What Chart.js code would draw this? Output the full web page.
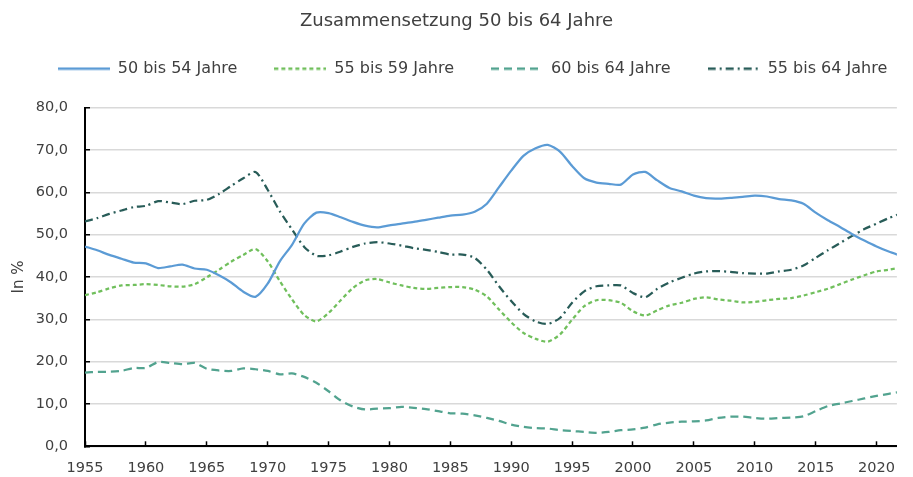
<!DOCTYPE html>
<html>
<head>
<meta charset="utf-8">
<script src="https://cdn.jsdelivr.net/npm/chart.js@4/dist/chart.umd.min.js"></script>
<style>
  html, body { margin: 0; padding: 0; background: #ffffff; }
  #wrap { width: 913px; height: 477px; }
</style>
</head>
<body>
<div id="wrap"><canvas id="c" width="913" height="477"></canvas></div>
<script>
const years = [1955,1956,1957,1958,1959,1960,1961,1962,1963,1964,1965,1966,1967,1968,1969,
  1970,1971,1972,1973,1974,1975,1976,1977,1978,1979,1980,1981,1982,1983,1984,1985,1986,1987,1988,1989,
  1990,1991,1992,1993,1994,1995,1996,1997,1998,1999,2000,2001,2002,2003,2004,2005,2006,2007,2008,2009,
  2010,2011,2012,2013,2014,2015,2016,2017,2018,2019,2020,2021,2022];

const age50to54 = [47.2,46.3,45.2,44.3,43.4,43.2,42.1,42.5,42.9,42.0,41.7,40.4,38.7,36.5,35.3,
  38.4,43.7,47.6,52.6,55.2,55.1,54.1,53.0,52.1,51.7,52.2,52.6,53.0,53.5,54.0,54.5,54.7,55.4,57.3,61.2,
  65.1,68.6,70.4,71.2,69.6,66.2,63.3,62.3,62.0,61.8,64.2,64.8,62.8,61.0,60.2,59.2,58.6,58.5,58.7,58.9,
  59.2,59.0,58.4,58.1,57.3,55.2,53.4,51.8,50.1,48.6,47.2,46.0,45.0];

const age55to59 = [35.7,36.4,37.3,38.0,38.1,38.3,38.1,37.8,37.7,38.3,39.9,41.7,43.6,45.2,46.6,
  43.7,39.0,34.7,31.0,29.5,31.5,34.5,37.4,39.2,39.5,38.7,38.0,37.4,37.2,37.4,37.6,37.6,37.0,35.4,32.3,
  29.3,26.8,25.4,24.7,26.4,29.9,33.1,34.5,34.5,33.9,31.9,30.9,32.1,33.3,33.9,34.8,35.2,34.7,34.4,34.0,
  34.1,34.5,34.8,35.0,35.6,36.4,37.2,38.3,39.4,40.4,41.3,41.7,42.2];

const age60to64 = [17.4,17.6,17.6,17.8,18.5,18.5,19.9,19.7,19.4,19.7,18.3,17.9,17.8,18.4,18.2,
  17.8,17.0,17.2,16.4,15.0,13.0,10.8,9.4,8.7,8.9,9.0,9.3,9.1,8.8,8.3,7.8,7.7,7.3,6.7,6.0,
  5.1,4.6,4.3,4.2,3.8,3.6,3.4,3.2,3.4,3.8,4.0,4.4,5.2,5.6,5.8,5.9,6.1,6.7,7.0,7.0,
  6.7,6.5,6.7,6.8,7.1,8.3,9.5,10.1,10.7,11.3,11.9,12.4,12.9];

const age55to64 = [53.1,53.9,54.9,55.7,56.5,56.8,57.9,57.6,57.2,58.0,58.2,59.6,61.5,63.3,64.8,
  60.6,55.5,51.2,47.1,45.0,45.1,46.0,47.1,47.9,48.2,47.9,47.4,46.8,46.4,45.9,45.3,45.3,44.5,41.7,37.8,
  34.3,31.3,29.5,28.9,30.3,33.9,36.6,37.8,38.0,38.0,36.2,35.2,37.2,38.7,39.8,40.8,41.3,41.4,41.2,40.9,
  40.8,40.8,41.3,41.7,42.7,44.5,46.3,48.0,49.7,51.3,52.6,53.9,55.0];

const seriesNames = ['50 bis 54 Jahre', '55 bis 59 Jahre', '60 bis 64 Jahre', '55 bis 64 Jahre'];
const yTicks = [0,10,20,30,40,50,60,70,80];

const FONT = "'DejaVu Sans', sans-serif";
const TEXT = '#404040';
const SAMPLE_W = 52;

function pts(vals) { return years.map((y, i) => ({ x: y, y: vals[i] })); }

function sample(color, dash) {
  const cv = document.createElement('canvas');
  cv.width = SAMPLE_W; cv.height = 4;
  const c = cv.getContext('2d');
  c.strokeStyle = color; c.lineWidth = 2.5; c.lineCap = 'butt';
  c.setLineDash(dash);
  c.beginPath(); c.moveTo(0, 2); c.lineTo(SAMPLE_W, 2); c.stroke();
  return cv;
}

const ds = [
  { label: seriesNames[0], data: pts(age50to54), borderColor: '#5b9bd5', borderWidth: 2.25, borderDash: [] },
  { label: seriesNames[1], data: pts(age55to59), borderColor: '#70bf5c', borderWidth: 2.25, borderDash: [4, 3] },
  { label: seriesNames[2], data: pts(age60to64), borderColor: '#52a38f', borderWidth: 2.25, borderDash: [8, 5] },
  { label: seriesNames[3], data: pts(age55to64), borderColor: '#285c58', borderWidth: 2.25, borderDash: [8, 4, 2, 4] }
].map(d => Object.assign(d, { pointRadius: 0, pointHoverRadius: 0, fill: false, tension: 0.25, backgroundColor: d.borderColor }));

const legendTweak = {
  id: 'legendTweak',
  beforeInit(chart) {
    const lg = chart.legend;
    const fit = lg.fit;
    lg.fit = function () { fit.call(lg); this.height = 84; };
    const draw = lg.draw;
    lg.draw = function (a) { const ctx = this.ctx; ctx.save(); ctx.translate(16, 0); draw.call(lg, a); ctx.restore(); };
  }
};

new Chart(document.getElementById('c'), {
  type: 'line',
  data: { datasets: ds },
  plugins: [legendTweak],
  options: {
    responsive: false,
    devicePixelRatio: 1,
    animation: false,
    layout: { padding: { left: 0, right: 0, top: 0, bottom: 0 } },
    plugins: {
      title: {
        display: true, text: 'Zusammensetzung 50 bis 64 Jahre', color: TEXT,
        font: { family: FONT, size: 18, weight: 'normal' }, padding: { top: 11, bottom: -9 }
      },
      legend: {
        display: true,
        labels: {
          color: TEXT, font: { family: FONT, size: 16 }, boxWidth: SAMPLE_W, boxHeight: 10, padding: 37,
          usePointStyle: true, pointStyleWidth: SAMPLE_W,
          generateLabels(chart) {
            return chart.data.datasets.map((d, i) => ({
              text: d.label, fillStyle: d.borderColor, strokeStyle: d.borderColor,
              pointStyle: sample(d.borderColor, d.borderDash),
              lineWidth: 0, hidden: false, datasetIndex: i, fontColor: TEXT
            }));
          }
        }
      },
      tooltip: { enabled: false }
    },
    scales: {
      x: {
        type: 'linear', min: 1955, max: 2021.67,
        afterFit(s) { s.height = 30; },
        border: { display: true, color: '#000000', width: 2 },
        grid: { drawOnChartArea: false, drawTicks: true, tickLength: -5, tickColor: '#000000', tickWidth: 1.5 },
        ticks: { stepSize: 5, includeBounds: false, autoSkip: false, maxRotation: 0, color: TEXT, padding: 18,
          font: { family: FONT, size: 14.5 }, callback: v => String(v) }
      },
      y: {
        min: 0, max: 80,
        afterFit(s) { s.width = 85; },
        afterBuildTicks(s) { s.ticks = yTicks.map(v => ({ value: v })); },
        border: { display: true, color: '#000000', width: 2 },
        grid: { color: '#d9d9d9', lineWidth: 1.5, drawTicks: true, tickLength: -5, tickColor: '#000000', tickWidth: 1.5 },
        ticks: { color: TEXT, padding: 22, font: { family: FONT, size: 14.5 },
          callback: v => v.toFixed(1).replace('.', ',') },
        title: { display: true, text: 'In %', color: TEXT, font: { family: FONT, size: 15 }, padding: { top: 10, bottom: 0 } }
      }
    }
  }
});
</script>
</body>
</html>
